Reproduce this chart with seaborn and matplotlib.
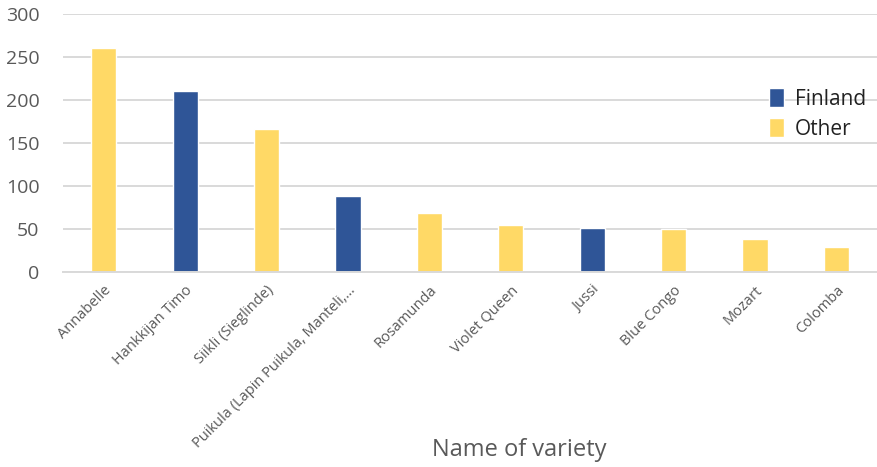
import matplotlib
matplotlib.use("Agg")
import matplotlib.pyplot as plt
import pandas as pd
import seaborn as sns

# Data
varieties = ["Annabelle", "Hankkijan Timo", "Siikli (Sieglinde)",
             "Puikula (Lapin Puikula, Manteli,\u2026", "Rosamunda", "Violet Queen",
             "Jussi", "Blue Congo", "Mozart", "Colomba"]
counts = [260, 210, 166, 88, 68, 55, 51, 50, 38, 29]
origin = ["Other", "Finland", "Other", "Finland", "Other", "Other",
          "Finland", "Other", "Other", "Other"]

df = pd.DataFrame({"variety": varieties, "count": counts, "origin": origin})

sns.set_style("white")
plt.rcParams["font.family"] = ["Open Sans", "DejaVu Sans"]

gray = "#595959"
palette = {"Finland": "#2F5597", "Other": "#FFD966"}

fig = plt.figure(figsize=(8.77, 4.67), dpi=100)
ax = fig.add_axes([0.072, 0.418, 0.928, 0.552])

sns.barplot(data=df, x="variety", y="count", hue="origin", palette=palette,
            hue_order=["Finland", "Other"], dodge=False, width=0.31,
            saturation=1, ax=ax)

ax.set_ylim(0, 300)
ax.set_yticks(range(0, 301, 50))
ax.yaxis.grid(True, color="#D9D9D9", linewidth=1.4)
ax.set_axisbelow(True)
for s in ["top", "right", "left"]:
    ax.spines[s].set_visible(False)
ax.spines["bottom"].set_color("#D9D9D9")
ax.spines["bottom"].set_linewidth(1.4)
ax.tick_params(axis="both", length=0, colors=gray)
ax.tick_params(axis="y", labelsize=14, pad=17)

ax.set_xticks(range(len(varieties)))
ax.set_xticklabels(varieties, rotation=45, ha="right", rotation_mode="anchor",
                   fontsize=10.5, color=gray)
ax.tick_params(axis="x", pad=8)

ax.set_ylabel("")
ax.set_xlabel("Name of variety", fontsize=17, color=gray)
ax.xaxis.set_label_coords(0.561, -0.645)

leg = ax.legend(loc="upper left", bbox_to_anchor=(0.867, 0.713), frameon=False,
                fontsize=15, handlelength=0.72, handleheight=1.05,
                handletextpad=0.55, labelspacing=0.4, borderpad=0,
                borderaxespad=0)
for t in leg.get_texts():
    t.set_color("#222222")

fig.savefig("out.png", dpi=100)
